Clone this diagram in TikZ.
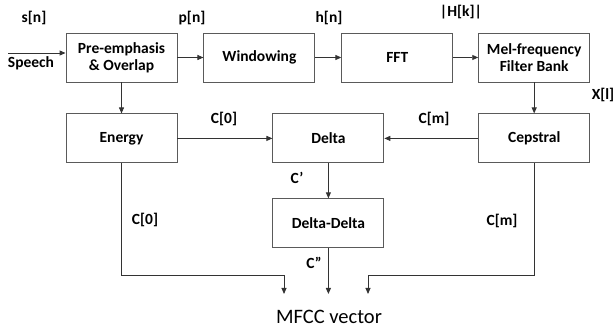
\documentclass[tikz,border=0pt]{standalone}
\usepackage{fontspec}
\setmainfont{Carlito}
\usetikzlibrary{arrows.meta,positioning}
\definecolor{edge}{HTML}{5A5A5A}

\begin{document}
\begin{tikzpicture}[x=1pt,y=-1pt,font=\bfseries\fontsize{15.5}{17}\selectfont,
  blk/.style={draw=edge,line width=0.9pt,align=center,minimum width=111pt,minimum height=49pt,inner sep=1pt},
  arr/.style={-{Triangle[length=6pt,width=5pt]},line width=0.9pt,black!80}]
\useasboundingbox (0,0) rectangle (613,328);
% processing chain
\node[blk] (pre) at (121.5,57.5) {Pre-emphasis\\\& Overlap};
\node[blk,right=26pt of pre] (win) {Windowing};
\node[blk,right=26pt of win] (fft) {FFT};
\node[blk,right=25pt of fft] (mel) {Mel-frequency\\Filter Bank};
\node[blk,below=31pt of pre] (ene) {Energy};
\node[blk,below=31pt of mel] (cep) {Cepstral};
\node[blk,right=95pt of ene] (del) {Delta};
\node[blk,below=35pt of del] (dd) {Delta-Delta};
\node[font=\fontsize{20.5}{22}\selectfont] (mfcc) at (329,317) {MFCC vector};
% free ends
\coordinate (spk) at (8,53);
\coordinate (in1) at (284,294);
\coordinate (in2) at (dd.south |- in1);
\coordinate (in3) at (368,294);
% signal labels
\node (sn) at (34,18) {s[n]};
\node (spch) at (31,63) {Speech};
\node (pn) at (192,18) {p[n]};
\node (hn) at (329,18) {h[n]};
\node (hk) at (461,12) {|H[k]|};
\node (xl) at (603,95) {X[l]};
\node (c0a) at (224,119) {C[0]};
\node (cma) at (434,119) {C[m]};
\node (cd) at (297,178) {C’};
\node (c0b) at (145,220) {C[0]};
\node (cmb) at (502,221) {C[m]};
\node (cdd) at (314,263) {C”};
% connectors
\draw[arr] (spk) -- (spk -| pre.west);
\draw[arr] (pre) -- (win); \draw[arr] (win) -- (fft); \draw[arr] (fft) -- (mel);
\draw[arr] (mel) -- (cep); \draw[arr] (pre) -- (ene);
\draw[arr] (ene) -- (del); \draw[arr] (cep) -- (del); \draw[arr] (del) -- (dd);
\draw[arr] (ene.south) -- (ene.south |- 0,275) -| (in1);
\draw[arr] (dd.south) -- (in2);
\draw[arr] (cep.south) -- (cep.south |- 0,275) -| (in3);
\end{tikzpicture}
\end{document}
